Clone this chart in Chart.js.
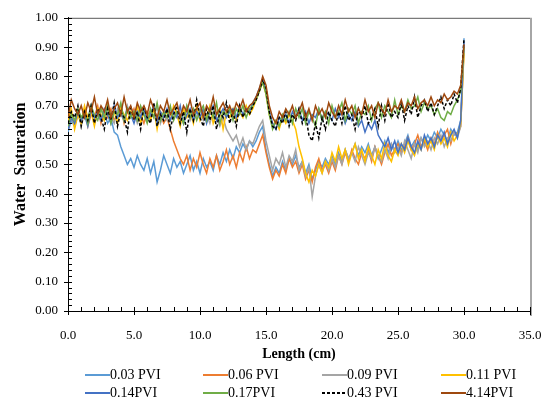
<!DOCTYPE html>
<html lang="en">
<head>
    <meta charset="UTF-8">
    <script src="https://cdn.jsdelivr.net/npm/chart.js"></script>
    <style>
        body {
            margin: 0;
            background: #ffffff;
            font-family: "Liberation Serif", "Times New Roman", serif;
        }
        .wrap {
            position: relative;
            width: 547px;
            height: 400px;
        }
        .legend-item {
            position: absolute;
            display: flex;
            align-items: center;
            font-size: 14px;
            color: #000;
            white-space: nowrap;
            height: 16px;
        }
        .legend-line {
            width: 25px;
            height: 2px;
            margin-right: 0;
        }
    </style>
</head>
<body>
    <div class="wrap">
        <canvas id="satChart" width="547" height="400"></canvas>
        <div id="legend"></div>
    </div>

    <script>
        // sample positions along the core (cm)
        const lengths = [
            0, 0.25, 0.5, 0.75, 1, 1.25, 1.5, 1.75, 2, 2.25,
            2.5, 2.75, 3, 3.25, 3.5, 3.75, 4, 4.25, 4.5, 4.75,
            5, 5.25, 5.5, 5.75, 6, 6.25, 6.5, 6.75, 7, 7.25,
            7.5, 7.75, 8, 8.25, 8.5, 8.75, 9, 9.25, 9.5, 9.75,
            10, 10.25, 10.5, 10.75, 11, 11.25, 11.5, 11.75, 12, 12.25,
            12.5, 12.75, 13, 13.25, 13.5, 13.75, 14, 14.25, 14.5, 14.75,
            15, 15.25, 15.5, 15.75, 16, 16.25, 16.5, 16.75, 17, 17.25,
            17.5, 17.75, 18, 18.25, 18.5, 18.75, 19, 19.25, 19.5, 19.75,
            20, 20.25, 20.5, 20.75, 21, 21.25, 21.5, 21.75, 22, 22.25,
            22.5, 22.75, 23, 23.25, 23.5, 23.75, 24, 24.25, 24.5, 24.75,
            25, 25.25, 25.5, 25.75, 26, 26.25, 26.5, 26.75, 27, 27.25,
            27.5, 27.75, 28, 28.25, 28.5, 28.75, 29, 29.25, 29.5, 29.75,
            30
        ];

        const pvi003 = [
            0.61, 0.65, 0.63, 0.67, 0.64, 0.68, 0.66, 0.69, 0.64, 0.67,
            0.65, 0.68, 0.64, 0.66, 0.61, 0.60, 0.56, 0.53, 0.50, 0.52,
            0.49, 0.53, 0.50, 0.48, 0.52, 0.47, 0.51, 0.44, 0.48, 0.53,
            0.50, 0.47, 0.52, 0.49, 0.51, 0.47, 0.50, 0.53, 0.48, 0.51,
            0.47, 0.52, 0.49, 0.51, 0.48, 0.53, 0.50, 0.54, 0.51, 0.55,
            0.52, 0.56, 0.54, 0.57, 0.55, 0.58, 0.56, 0.58, 0.61, 0.63,
            0.55, 0.50, 0.46, 0.49, 0.47, 0.51, 0.48, 0.52, 0.50, 0.53,
            0.49, 0.51, 0.47, 0.50, 0.45, 0.48, 0.51, 0.49, 0.52, 0.50,
            0.53, 0.50, 0.54, 0.51, 0.55, 0.52, 0.54, 0.57, 0.53, 0.56,
            0.54, 0.57, 0.53, 0.56, 0.52, 0.55, 0.58, 0.54, 0.57, 0.55,
            0.58, 0.55, 0.57, 0.60, 0.56, 0.58, 0.55, 0.59, 0.57, 0.60,
            0.58, 0.61, 0.59, 0.62, 0.60, 0.58, 0.62, 0.60, 0.61, 0.65,
            0.93
        ];
        const pvi006 = [
            0.62, 0.66, 0.64, 0.68, 0.65, 0.69, 0.63, 0.67, 0.66, 0.70,
            0.64, 0.68, 0.66, 0.69, 0.65, 0.67, 0.70, 0.64, 0.68, 0.66,
            0.69, 0.65, 0.67, 0.64, 0.68, 0.66, 0.70, 0.65, 0.67, 0.64,
            0.66, 0.62, 0.58, 0.55, 0.52, 0.50, 0.53, 0.48, 0.52, 0.49,
            0.54, 0.50, 0.47, 0.52, 0.49, 0.53, 0.48, 0.51, 0.55, 0.50,
            0.53, 0.49, 0.54, 0.51, 0.56, 0.52, 0.55, 0.54, 0.57, 0.60,
            0.54, 0.49, 0.45, 0.48, 0.46, 0.50, 0.47, 0.52, 0.49, 0.51,
            0.47, 0.50, 0.45, 0.48, 0.44, 0.49, 0.52, 0.48, 0.50, 0.47,
            0.51, 0.48, 0.53, 0.50, 0.54, 0.51, 0.55, 0.52, 0.50, 0.54,
            0.52, 0.55, 0.51, 0.56, 0.53, 0.50, 0.54, 0.57, 0.53, 0.55,
            0.57, 0.54, 0.56, 0.59, 0.55, 0.57, 0.60, 0.56, 0.58, 0.55,
            0.59, 0.57, 0.61, 0.58, 0.60, 0.62, 0.57, 0.61, 0.60, 0.63,
            0.90
        ];
        const pvi009 = [
            0.64, 0.67, 0.65, 0.69, 0.63, 0.68, 0.66, 0.70, 0.64, 0.67,
            0.69, 0.65, 0.68, 0.66, 0.64, 0.69, 0.67, 0.65, 0.70, 0.66,
            0.68, 0.64, 0.67, 0.69, 0.65, 0.68, 0.66, 0.70, 0.64, 0.67,
            0.65, 0.69, 0.66, 0.68, 0.64, 0.67, 0.70, 0.65, 0.68, 0.66,
            0.69, 0.65, 0.67, 0.64, 0.68, 0.66, 0.63, 0.66, 0.62, 0.60,
            0.58, 0.60, 0.56, 0.59, 0.55, 0.58, 0.57, 0.60, 0.63, 0.65,
            0.58, 0.53, 0.48, 0.52, 0.50, 0.54, 0.49, 0.53, 0.51, 0.55,
            0.48, 0.51, 0.46, 0.49, 0.39, 0.46, 0.50, 0.47, 0.51, 0.48,
            0.52, 0.49, 0.53, 0.50, 0.55, 0.52, 0.54, 0.51, 0.56, 0.53,
            0.50, 0.54, 0.52, 0.56, 0.53, 0.51, 0.55, 0.52, 0.57, 0.54,
            0.56, 0.53, 0.58, 0.55, 0.52, 0.57, 0.54, 0.59, 0.56, 0.58,
            0.55, 0.59, 0.57, 0.60, 0.56, 0.59, 0.58, 0.61, 0.59, 0.63,
            0.89
        ];
        const pvi011 = [
            0.65, 0.69, 0.62, 0.67, 0.64, 0.70, 0.66, 0.68, 0.63, 0.69,
            0.67, 0.65, 0.70, 0.66, 0.68, 0.64, 0.69, 0.67, 0.65, 0.68,
            0.66, 0.70, 0.64, 0.68, 0.67, 0.65, 0.69, 0.62, 0.68, 0.66,
            0.68, 0.65, 0.70, 0.67, 0.63, 0.69, 0.66, 0.68, 0.64, 0.70,
            0.65, 0.68, 0.66, 0.70, 0.64, 0.67, 0.69, 0.62, 0.68, 0.66,
            0.69, 0.65, 0.68, 0.66, 0.70, 0.67, 0.69, 0.72, 0.75, 0.78,
            0.74, 0.67, 0.63, 0.65, 0.62, 0.66, 0.64, 0.67, 0.65, 0.62,
            0.56, 0.52, 0.47, 0.44, 0.48, 0.46, 0.50, 0.47, 0.51, 0.49,
            0.54, 0.51, 0.56, 0.52, 0.55, 0.50, 0.54, 0.57, 0.52, 0.55,
            0.51, 0.56, 0.53, 0.50, 0.55, 0.52, 0.57, 0.53, 0.51, 0.55,
            0.53, 0.57, 0.54, 0.58, 0.55, 0.53, 0.57, 0.55, 0.59, 0.56,
            0.58, 0.55, 0.60, 0.57, 0.59, 0.56, 0.61, 0.58, 0.60, 0.64,
            0.88
        ];
        const pvi014 = [
            0.62, 0.66, 0.64, 0.68, 0.65, 0.67, 0.63, 0.69, 0.66, 0.68,
            0.65, 0.69, 0.67, 0.64, 0.70, 0.66, 0.68, 0.65, 0.69, 0.67,
            0.64, 0.68, 0.66, 0.69, 0.65, 0.67, 0.70, 0.64, 0.68, 0.66,
            0.69, 0.65, 0.68, 0.66, 0.70, 0.64, 0.67, 0.69, 0.65, 0.68,
            0.66, 0.69, 0.64, 0.68, 0.70, 0.65, 0.67, 0.69, 0.66, 0.68,
            0.69, 0.66, 0.70, 0.67, 0.69, 0.68, 0.71, 0.73, 0.76, 0.79,
            0.75, 0.68, 0.64, 0.62, 0.66, 0.65, 0.67, 0.64, 0.68, 0.66,
            0.69, 0.65, 0.68, 0.64, 0.67, 0.66, 0.69, 0.65, 0.68, 0.67,
            0.65, 0.69, 0.66, 0.68, 0.64, 0.67, 0.65, 0.68, 0.63, 0.65,
            0.61, 0.64, 0.62, 0.65, 0.60, 0.58, 0.56, 0.59, 0.55, 0.58,
            0.54, 0.57, 0.55, 0.59, 0.56, 0.54, 0.58, 0.55, 0.60, 0.57,
            0.59, 0.56, 0.60, 0.58, 0.61, 0.57, 0.60, 0.62, 0.59, 0.65,
            0.92
        ];
        const pvi017 = [
            0.63, 0.67, 0.65, 0.69, 0.66, 0.68, 0.64, 0.70, 0.67, 0.65,
            0.69, 0.66, 0.70, 0.64, 0.68, 0.67, 0.71, 0.65, 0.69, 0.66,
            0.68, 0.65, 0.70, 0.67, 0.64, 0.69, 0.66, 0.71, 0.65, 0.68,
            0.66, 0.70, 0.65, 0.68, 0.67, 0.64, 0.70, 0.66, 0.69, 0.65,
            0.68, 0.70, 0.65, 0.69, 0.66, 0.71, 0.64, 0.68, 0.67, 0.69,
            0.65, 0.69, 0.67, 0.70, 0.66, 0.69, 0.70, 0.72, 0.75, 0.78,
            0.74, 0.67, 0.62, 0.65, 0.63, 0.67, 0.65, 0.68, 0.64, 0.69,
            0.66, 0.69, 0.64, 0.68, 0.66, 0.63, 0.69, 0.65, 0.68, 0.64,
            0.70, 0.66, 0.68, 0.71, 0.65, 0.69, 0.67, 0.70, 0.64, 0.68,
            0.67, 0.70, 0.65, 0.69, 0.71, 0.66, 0.70, 0.68, 0.66, 0.72,
            0.67, 0.70, 0.68, 0.72, 0.69, 0.70, 0.73, 0.68, 0.71, 0.69,
            0.70, 0.67, 0.69, 0.66, 0.65, 0.68, 0.67, 0.70, 0.72, 0.75,
            0.90
        ];
        const pvi043 = [
            0.64, 0.68, 0.66, 0.70, 0.63, 0.68, 0.65, 0.70, 0.64, 0.69,
            0.66, 0.62, 0.69, 0.65, 0.71, 0.63, 0.68, 0.66, 0.61, 0.70,
            0.65, 0.68, 0.62, 0.70, 0.66, 0.64, 0.71, 0.63, 0.67, 0.65,
            0.69, 0.62, 0.67, 0.70, 0.64, 0.68, 0.61, 0.69, 0.65, 0.72,
            0.66, 0.63, 0.69, 0.65, 0.70, 0.62, 0.68, 0.66, 0.71, 0.64,
            0.68, 0.63, 0.70, 0.66, 0.69, 0.67, 0.70, 0.72, 0.75, 0.79,
            0.76, 0.68, 0.63, 0.62, 0.66, 0.64, 0.68, 0.63, 0.67, 0.65,
            0.69, 0.64, 0.67, 0.60, 0.58, 0.64, 0.59, 0.66, 0.62, 0.68,
            0.65, 0.63, 0.68, 0.64, 0.70, 0.65, 0.67, 0.62, 0.69, 0.66,
            0.70, 0.64, 0.66, 0.69, 0.63, 0.70, 0.65, 0.71, 0.66, 0.68,
            0.66, 0.71, 0.65, 0.70, 0.67, 0.73, 0.66, 0.70, 0.72, 0.68,
            0.71, 0.67, 0.70, 0.73, 0.69, 0.72, 0.70, 0.74, 0.71, 0.76,
            0.93
        ];
        const pvi414 = [
            0.66, 0.72, 0.69, 0.67, 0.70, 0.66, 0.71, 0.68, 0.73, 0.67,
            0.70, 0.68, 0.72, 0.66, 0.69, 0.71, 0.67, 0.73, 0.68, 0.70,
            0.66, 0.71, 0.68, 0.70, 0.67, 0.72, 0.69, 0.66, 0.70, 0.68,
            0.72, 0.67, 0.69, 0.71, 0.66, 0.70, 0.68, 0.72, 0.67, 0.69,
            0.71, 0.66, 0.70, 0.68, 0.73, 0.67, 0.69, 0.71, 0.68, 0.70,
            0.67, 0.71, 0.69, 0.72, 0.68, 0.70, 0.71, 0.73, 0.76, 0.80,
            0.77, 0.70, 0.66, 0.64, 0.68, 0.66, 0.69, 0.67, 0.70, 0.66,
            0.68, 0.71, 0.66, 0.69, 0.65, 0.70, 0.67, 0.69, 0.66, 0.71,
            0.68, 0.66, 0.70, 0.67, 0.72, 0.68, 0.70, 0.66, 0.69, 0.67,
            0.72, 0.68, 0.70, 0.66, 0.71, 0.69, 0.67, 0.72, 0.68, 0.70,
            0.69, 0.72, 0.68, 0.71, 0.70, 0.73, 0.69, 0.71, 0.72, 0.70,
            0.73, 0.70, 0.72, 0.71, 0.74, 0.72, 0.73, 0.75, 0.74, 0.77,
            0.91
        ];

        const seriesNames = ['0.03 PVI', '0.06 PVI', '0.09 PVI', '0.11 PVI', '0.14PVI', '0.17PVI', '0.43 PVI', '4.14PVI'];
        const seriesValues = [pvi003, pvi006, pvi009, pvi011, pvi014, pvi017, pvi043, pvi414];
        const seriesColors = ['#5B9BD5', '#ED7D31', '#A5A5A5', '#FFC000', '#4472C4', '#70AD47', '#000000', '#9E480E'];

        const serif = '"Liberation Serif", "Times New Roman", serif';

        // frame on top/right plus Excel-style major (cross) and minor (inside) tick marks
        const tickMarks = {
            id: 'tickMarks',
            afterDraw(chart) {
                const { ctx, chartArea: a, scales: { x, y } } = chart;
                ctx.save();
                ctx.setLineDash([]);
                ctx.strokeStyle = '#595959';
                ctx.lineWidth = 1;
                ctx.beginPath();
                ctx.moveTo(a.left, a.top + 0.5);
                ctx.lineTo(a.right, a.top + 0.5);
                ctx.stroke();
                ctx.strokeStyle = '#A6A6A6';
                ctx.lineWidth = 2;
                ctx.beginPath();
                ctx.moveTo(a.right + 1, a.top);
                ctx.lineTo(a.right + 1, a.bottom + 5);
                ctx.stroke();

                ctx.strokeStyle = '#000000';
                ctx.lineWidth = 1;
                ctx.beginPath();
                for (let v = 0; v <= 35.001; v += 1) {
                    const px = Math.round(x.getPixelForValue(v)) + 0.5;
                    const major = Math.abs(v % 5) < 0.001;
                    ctx.moveTo(px, a.bottom - 4);
                    ctx.lineTo(px, major ? a.bottom + 4 : a.bottom);
                }
                for (let k = 0; k <= 50; k++) {
                    const py = Math.round(y.getPixelForValue(k * 0.02)) + 0.5;
                    const major = k % 5 === 0;
                    ctx.moveTo(major ? a.left - 4 : a.left, py);
                    ctx.lineTo(a.left + 4, py);
                }
                ctx.stroke();
                ctx.restore();
            }
        };

        const datasets = seriesNames.map((name, i) => ({
            label: name,
            data: lengths.map((len, j) => ({ x: len, y: seriesValues[i][j] })),
            borderColor: seriesColors[i],
            backgroundColor: seriesColors[i],
            borderWidth: 1.5,
            borderDash: name === '0.43 PVI' ? [3, 2] : [],
            pointRadius: 0,
            tension: 0,
            order: seriesNames.length - i
        }));

        new Chart(document.getElementById('satChart'), {
            type: 'line',
            data: { datasets: datasets },
            options: {
                responsive: false,
                animation: false,
                layout: {
                    padding: { top: 17, right: 17, bottom: 37, left: 0 }
                },
                scales: {
                    x: {
                        type: 'linear',
                        min: 0,
                        max: 35,
                        afterFit(scale) {
                            scale.height = 52;
                            scale.paddingLeft = 0;
                            scale.paddingRight = 0;
                        },
                        grid: { display: false, drawTicks: false },
                        border: { display: true, color: '#000000', width: 1 },
                        ticks: {
                            stepSize: 5,
                            padding: 17,
                            color: '#000000',
                            font: { family: serif, size: 13 },
                            maxRotation: 0,
                            callback: v => v.toFixed(1)
                        },
                        title: {
                            display: true,
                            text: 'Length (cm)',
                            color: '#000000',
                            padding: 0,
                            font: { family: serif, size: 14, weight: 'bold' }
                        }
                    },
                    y: {
                        min: 0,
                        max: 1,
                        afterFit(scale) { scale.width = 68; },
                        grid: { display: false, drawTicks: false },
                        border: { display: true, color: '#000000', width: 1 },
                        ticks: {
                            stepSize: 0.1,
                            padding: 10,
                            color: '#000000',
                            font: { family: serif, size: 13 },
                            callback: v => v.toFixed(2)
                        },
                        title: {
                            display: true,
                            text: 'Water  Saturation',
                            color: '#000000',
                            padding: { top: 11, bottom: 0 },
                            font: { family: serif, size: 16, weight: 'bold' }
                        }
                    }
                },
                plugins: {
                    legend: { display: false },
                    tooltip: { enabled: false }
                }
            },
            plugins: [tickMarks]
        });

        // legend: 4 columns x 2 rows under the axis title
        const legendCols = [85, 203, 322, 441];
        const legendRows = [367, 385];
        const legendBox = document.getElementById('legend');
        seriesNames.forEach((name, i) => {
            const item = document.createElement('div');
            item.className = 'legend-item';
            item.style.left = legendCols[i % 4] + 'px';
            item.style.top = legendRows[Math.floor(i / 4)] + 'px';
            const line = document.createElement('span');
            line.className = 'legend-line';
            if (name === '0.43 PVI') {
                line.style.background = 'repeating-linear-gradient(to right, #000 0 3px, transparent 3px 5px)';
            } else {
                line.style.background = seriesColors[i];
            }
            const label = document.createElement('span');
            label.textContent = name;
            item.appendChild(line);
            item.appendChild(label);
            legendBox.appendChild(item);
        });
    </script>
</body>
</html>
